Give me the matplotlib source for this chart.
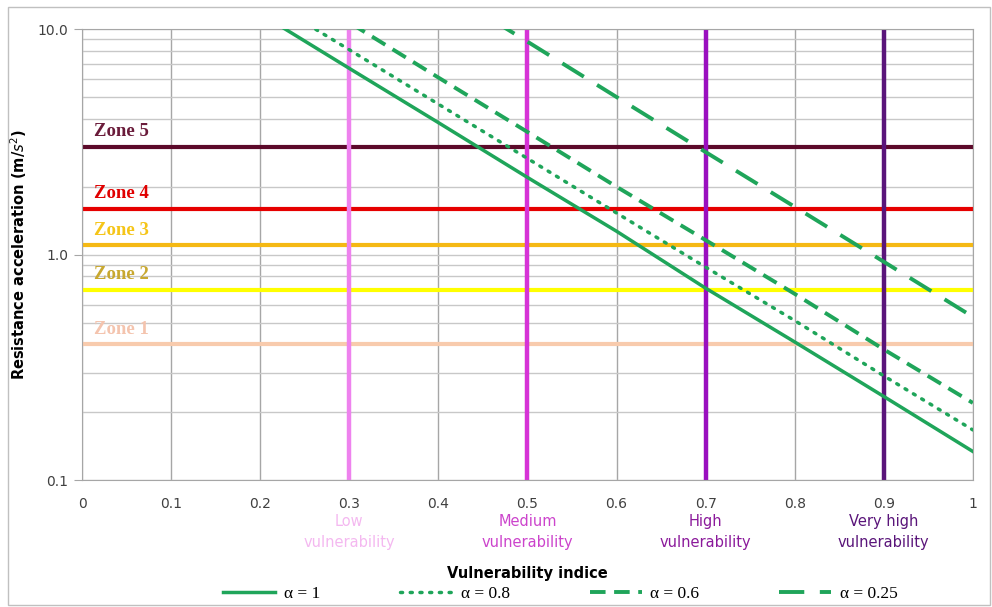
import matplotlib.pyplot as plt
from matplotlib.ticker import FixedLocator, LogLocator, NullFormatter
import matplotlib.patches as mpatches

# curves (log y axis)
x_pts = [0.2, 0.3, 0.4, 0.5, 0.6, 0.7, 0.8, 0.9, 1.0]
a_1 = [11.7, 6.7, 3.85, 2.2, 1.27, 0.71, 0.41, 0.235, 0.134]
a_08 = [14.1, 8.1, 4.65, 2.67, 1.53, 0.88, 0.51, 0.29, 0.167]
a_06 = [18.5, 10.7, 6.1, 3.5, 2.0, 1.16, 0.67, 0.38, 0.22]
a_025 = [48.0, 27.0, 15.4, 8.8, 5.0, 2.85, 1.63, 0.93, 0.53]

zone_names = ['Zone 1', 'Zone 2', 'Zone 3', 'Zone 4', 'Zone 5']
zone_vals = [0.4, 0.7, 1.1, 1.6, 3.0]
zone_line_col = ['#f8cbad', '#ffff00', '#f5b914', '#e60000', '#5c0a2a']
zone_text_col = ['#f4c4ae', '#c8a830', '#f5c518', '#e00000', '#6a1b3a']

vul_x = [0.3, 0.5, 0.7, 0.9]
vul_names = ['Low\nvulnerability', 'Medium\nvulnerability', 'High\nvulnerability', 'Very high\nvulnerability']
vul_col = ['#ee82ee', '#d633d6', '#9a0fbf', '#5a157a']
vul_text_col = ['#f4b8f0', '#cc44cc', '#8b1a9b', '#5a157a']

x_ticks = [0, 0.1, 0.2, 0.3, 0.4, 0.5, 0.6, 0.7, 0.8, 0.9, 1.0]
x_labels = ['0', '0.1', '0.2', '0.3', '0.4', '0.5', '0.6', '0.7', '0.8', '0.9', '1']

green = '#1fa55a'

fig = plt.figure(figsize=(9.92, 6.07), dpi=100)
ax = fig.add_axes([0.0827, 0.209, 0.898, 0.743])

ax.set_yscale('log')
ax.set_xlim(0, 1)
ax.set_ylim(0.1, 10)

# grid
ax.yaxis.set_major_locator(FixedLocator([0.1, 1, 10]))
ax.yaxis.set_minor_locator(LogLocator(base=10, subs=range(2, 10)))
ax.yaxis.set_minor_formatter(NullFormatter())
ax.set_yticklabels(['0.1', '1.0', '10.0'])
ax.set_xticks(x_ticks)
ax.set_xticklabels(x_labels)
ax.grid(True, which='major', axis='x', color='#a6a6a6', lw=1)
ax.grid(True, which='both', axis='y', color='#c8c8c8', lw=1)
ax.tick_params(axis='both', which='both', length=0, labelsize=10, colors='#404040', pad=12)
ax.tick_params(axis='y', which='major', length=6, color='#a6a6a6', pad=4)
for s in ax.spines.values():
    s.set_color('#a6a6a6')
ax.set_axisbelow(True)

# zones
for v, c in zip(zone_vals, zone_line_col):
    ax.axhline(v, color=c, lw=3, zorder=2)
for n, v, c in zip(zone_names, zone_vals, zone_text_col):
    ax.text(0.013, v * 1.07, n, color=c, fontsize=13.5, fontweight='bold',
            family='Liberation Serif', va='bottom', ha='left')

# vulnerability limits
for v, c in zip(vul_x, vul_col):
    ax.axvline(v, color=c, lw=3.2, zorder=2)
for v, n, c in zip(vul_x, vul_names, vul_text_col):
    ax.text(v, -0.075, n, color=c, fontsize=10.5, ha='center', va='top',
            transform=ax.get_xaxis_transform(), linespacing=1.5)

# curves
l1, = ax.plot(x_pts, a_1, color=green, lw=2.5, zorder=3, label='α = 1')
l2, = ax.plot(x_pts, a_08, color=green, lw=2.5, ls=(0, (0.6, 2.2)),
              dash_capstyle='round', zorder=3, label='α = 0.8')
l3, = ax.plot(x_pts, a_06, color=green, lw=2.8, ls=(0, (4, 2.2)), zorder=3, label='α = 0.6')
l4, = ax.plot(x_pts, a_025, color=green, lw=2.8, ls=(0, (6.5, 4)), zorder=3, label='α = 0.25')

ax.set_xlabel('Vulnerability indice', fontsize=10.5, fontweight='bold', labelpad=40)
ax.set_ylabel('Resistance acceleration (m/$s^2$)', fontsize=10.5, fontweight='bold', labelpad=6)

leg = fig.legend(handles=[l1, l2, l3, l4], loc='lower center', ncol=4,
                 bbox_to_anchor=(0.565, -0.018), frameon=False, handlelength=3.0,
                 columnspacing=4.6, prop={'family': 'Liberation Serif', 'size': 12.5},
                 handletextpad=0.5)

# outer chart frame
fig.patches.append(mpatches.Rectangle((0.008, 0.003), 0.99, 0.986, transform=fig.transFigure,
                                      fill=False, ec='#c0c0c0', lw=1))

fig.savefig('out.png', dpi=100)
